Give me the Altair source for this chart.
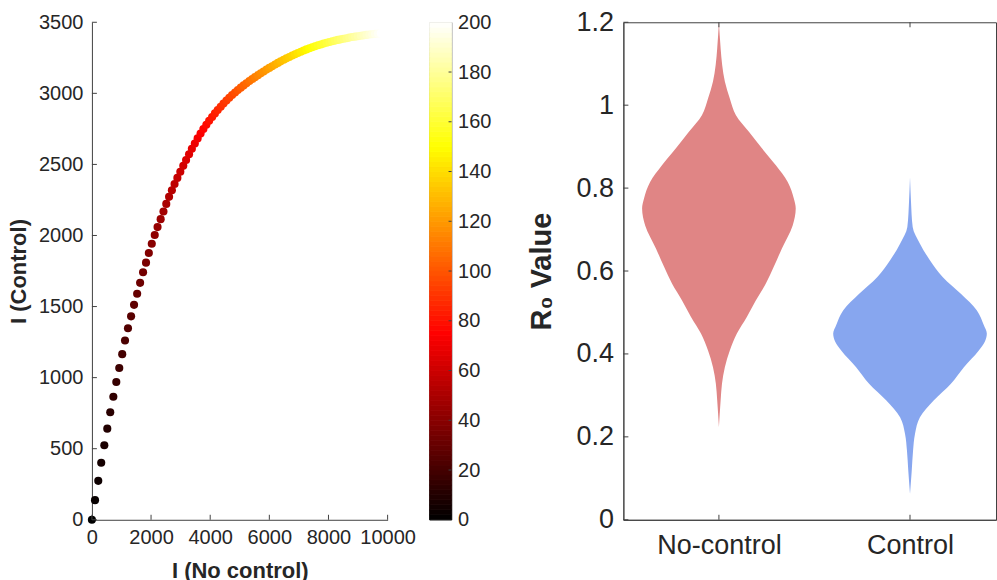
import altair as alt
import pandas as pd

FONT = "Liberation Sans"
TXT = "#262626"
AX = "#404040"

# ---------------- Left panel data ----------------
t_days = list(range(0, 201, 2))
i_nocontrol = [
    0, 105, 215, 315, 420, 520, 620, 725, 825, 925,
    1025, 1120, 1220, 1325, 1425, 1530, 1630, 1730, 1830, 1925,
    2025, 2125, 2220, 2325, 2420, 2515, 2610, 2705, 2795,
    2890, 2990, 3090, 3185, 3285, 3380, 3480, 3575, 3675, 3770,
    3870, 3965, 4065, 4160, 4255, 4355, 4450, 4550, 4645, 4740,
    4840, 4935, 5035, 5130, 5225, 5325, 5420, 5515, 5615, 5710,
    5805, 5905, 6000, 6095, 6195, 6290, 6385, 6485, 6580, 6675,
    6775, 6870, 6965, 7065, 7160, 7255, 7355, 7450, 7545, 7645,
    7740, 7835, 7935, 8030, 8125, 8225, 8320, 8415, 8515, 8610,
    8705, 8805, 8900, 8995, 9095, 9190, 9285, 9385, 9480, 9575,
    9675, 9770,
]
i_control = [
    0, 138, 274, 401, 524, 641, 756, 865, 969, 1068,
    1165, 1261, 1347, 1431, 1512, 1590, 1667, 1741, 1809, 1877,
    1942, 2003, 2059, 2115, 2169, 2222, 2272, 2318, 2362,
    2405, 2448, 2490, 2531, 2571, 2610, 2647, 2683, 2717, 2749,
    2779, 2807, 2834, 2859, 2883, 2906, 2928, 2949, 2969, 2988,
    3006, 3023, 3040, 3056, 3071, 3086, 3100, 3114, 3128, 3141,
    3154, 3167, 3179, 3191, 3203, 3214, 3225, 3236, 3246, 3256,
    3266, 3275, 3284, 3293, 3301, 3309, 3317, 3324, 3331, 3338,
    3344, 3350, 3356, 3361, 3366, 3371, 3376, 3380, 3384, 3388,
    3392, 3396, 3399, 3402, 3405, 3408, 3411, 3414, 3416, 3418,
    3420, 3422,
]
x_ticks = [0, 2000, 4000, 6000, 8000, 10000]
y_ticks = [0, 500, 1000, 1500, 2000, 2500, 3000, 3500]
cb_ticks = [0, 20, 40, 60, 80, 100, 120, 140, 160, 180, 200]
hot_stops = [0, 75, 150, 200]
hot_colors = ["#000000", "#ff0000", "#ffff00", "#ffffff"]

# ---------------- Right panel data ----------------
groups = ["No-control", "Control"]
group_pos = [1, 2]
group_colors = ["#E08585", "#87A6EF"]
nc_y = [1.200, 1.137, 1.097, 1.057, 1.016, 0.976, 0.936, 0.896, 0.855, 0.815,
        0.775, 0.751, 0.710, 0.654, 0.610, 0.569, 0.529, 0.489, 0.449, 0.408,
        0.368, 0.328, 0.288, 0.223]
nc_w = [0.0, 0.009, 0.017, 0.031, 0.057, 0.089, 0.157, 0.225, 0.298, 0.360,
        0.392, 0.402, 0.386, 0.329, 0.287, 0.245, 0.193, 0.146, 0.094, 0.057,
        0.031, 0.016, 0.009, 0.0]
c_y = [0.826, 0.769, 0.706, 0.666, 0.626, 0.585, 0.545, 0.505, 0.470, 0.449,
       0.430, 0.408, 0.368, 0.328, 0.288, 0.247, 0.207, 0.167, 0.118, 0.062]
c_w = [0.0, 0.005, 0.014, 0.052, 0.104, 0.172, 0.266, 0.350, 0.386, 0.402,
       0.392, 0.360, 0.282, 0.214, 0.125, 0.052, 0.026, 0.016, 0.009, 0.0]
r_ticks = [0, 0.2, 0.4, 0.6, 0.8, 1.0, 1.2]

W1, H = 296, 498
WC = 22
W2 = 373
GAP = 42
WS = 88

hot = alt.Scale(domain=hot_stops, range=hot_colors, interpolate="rgb")

# ---------------- Left panel ----------------
df_left = pd.DataFrame({"x": i_nocontrol, "y": i_control, "t": t_days})

xs = alt.Scale(domain=[0, 10000], nice=False, zero=False)
ys = alt.Scale(domain=[0, 3500], nice=False, zero=False)

pts = alt.Chart(df_left).mark_circle(size=66, opacity=1, stroke=None).encode(
    x=alt.X("x:Q", scale=xs, axis=alt.Axis(
        values=x_ticks, format="d", title="I (No control)", labelFontSize=20,
        labelPadding=8, labelOverlap=False, labelFlush=False,
        titleFontSize=22, titlePadding=13)),
    y=alt.Y("y:Q", scale=ys, axis=alt.Axis(
        values=y_ticks, format="d", title="I (Control)", labelFontSize=20,
        labelPadding=9, labelOverlap=False, labelFlush=False,
        titleFontSize=22, titlePadding=8)),
    color=alt.Color("t:Q", scale=hot, legend=None),
    order=alt.Order("t:Q"),
)

ltx = alt.Chart(pd.DataFrame({"x": x_ticks})).mark_rule(color=AX, strokeWidth=1).encode(
    x=alt.X("x:Q", scale=xs), y=alt.value(H), y2=alt.value(H - 5))
lty = alt.Chart(pd.DataFrame({"y": y_ticks})).mark_rule(color=AX, strokeWidth=1).encode(
    y=alt.Y("y:Q", scale=ys), x=alt.value(0), x2=alt.value(5))

left = alt.layer(pts, ltx, lty).properties(width=W1, height=H)

# ---------------- Colorbar ----------------
cb_df = pd.DataFrame({"lo": t_days[:-1], "hi": t_days[1:]})
cys = alt.Scale(domain=[0, 200], nice=False, zero=False)
cb_rect = alt.Chart(cb_df).transform_calculate(
    mid="(datum.lo + datum.hi) / 2").mark_rect(strokeWidth=0.8).encode(
    y=alt.Y("lo:Q", scale=cys, axis=alt.Axis(
        orient="right", values=cb_ticks, labelFontSize=20, labelPadding=6,
        labelOverlap=False, labelFlush=False, domain=False, title=None)),
    y2="hi:Q",
    x=alt.value(0), x2=alt.value(WC),
    color=alt.Color("mid:Q", scale=hot, legend=None),
    stroke=alt.Stroke("mid:Q", scale=hot, legend=None),
)
cb_tk = alt.Chart(pd.DataFrame({"lo": cb_ticks[1:-1]})).mark_rule(
    color=AX, strokeWidth=1).encode(
    y=alt.Y("lo:Q", scale=cys), x=alt.value(WC - 3), x2=alt.value(WC))
cbar = alt.layer(cb_rect, cb_tk).properties(
    width=WC, height=H,
    view=alt.ViewBackground(stroke=AX, strokeWidth=0.8))

spacer = alt.Chart(pd.DataFrame({"v": [0]})).mark_point(opacity=0).encode(
    x=alt.value(0), y=alt.value(0)).properties(width=WS, height=H)

# ---------------- Right panel ----------------
rows = []
for g, p, col, ys_, ws_ in [(groups[0], group_pos[0], group_colors[0], nc_y, nc_w),
                            (groups[1], group_pos[1], group_colors[1], c_y, c_w)]:
    for yv, wv in zip(ys_, ws_):
        rows.append({"group": g, "y": yv, "lo": p - wv, "hi": p + wv, "col": col})
vdf = pd.DataFrame(rows)

rxs = alt.Scale(domain=[0.5, 2.45], nice=False, zero=False)
rys = alt.Scale(domain=[0, 1.2], nice=False, zero=False)

label_expr = "datum.value == 1 ? 'No-control' : 'Control'"
viol = alt.Chart(vdf).mark_area(orient="horizontal", opacity=1,
                                interpolate="monotone").encode(
    y=alt.Y("y:Q", scale=rys, axis=alt.Axis(
        values=r_ticks, format="~g", title="R\u2080 Value", labelFontSize=27,
        labelPadding=10, labelOverlap=False, labelFlush=False,
        titleFontSize=29, titlePadding=19)),
    x=alt.X("lo:Q", scale=rxs, axis=alt.Axis(
        values=group_pos, labelExpr=label_expr, title=None, labelFontSize=27,
        labelPadding=13, labelFlush=False)),
    x2="hi:Q",
    fill=alt.Fill("col:N", scale=None),
    detail="group:N",
)

rtx_b = alt.Chart(pd.DataFrame({"lo": group_pos})).mark_rule(color=AX).encode(
    x=alt.X("lo:Q", scale=rxs), y=alt.value(H), y2=alt.value(H - 5))
rtx_t = alt.Chart(pd.DataFrame({"lo": group_pos})).mark_rule(color=AX).encode(
    x=alt.X("lo:Q", scale=rxs), y=alt.value(0), y2=alt.value(5))
rty = alt.Chart(pd.DataFrame({"y": r_ticks})).mark_rule(color=AX).encode(
    y=alt.Y("y:Q", scale=rys), x=alt.value(0), x2=alt.value(5))

right = alt.layer(viol, rtx_b, rtx_t, rty).properties(
    width=W2, height=H,
    view=alt.ViewBackground(stroke=AX, strokeWidth=1))

chart = alt.hconcat(left, cbar, spacer, right, spacing=GAP, bounds="flush").resolve_scale(
    color="independent", stroke="independent", y="independent", x="independent").properties(
    padding={"left": 7, "top": 7, "right": 0, "bottom": 0},
    background="white",
).configure_view(stroke=None).configure_axis(
    grid=False, domainColor=AX, domainWidth=1, tickSize=0,
    labelColor=TXT, labelFont=FONT, titleFont=FONT, titleColor=TXT,
    titleFontWeight="bold",
)

chart.save("out.html", embed_options={"renderer": "svg", "actions": False})
